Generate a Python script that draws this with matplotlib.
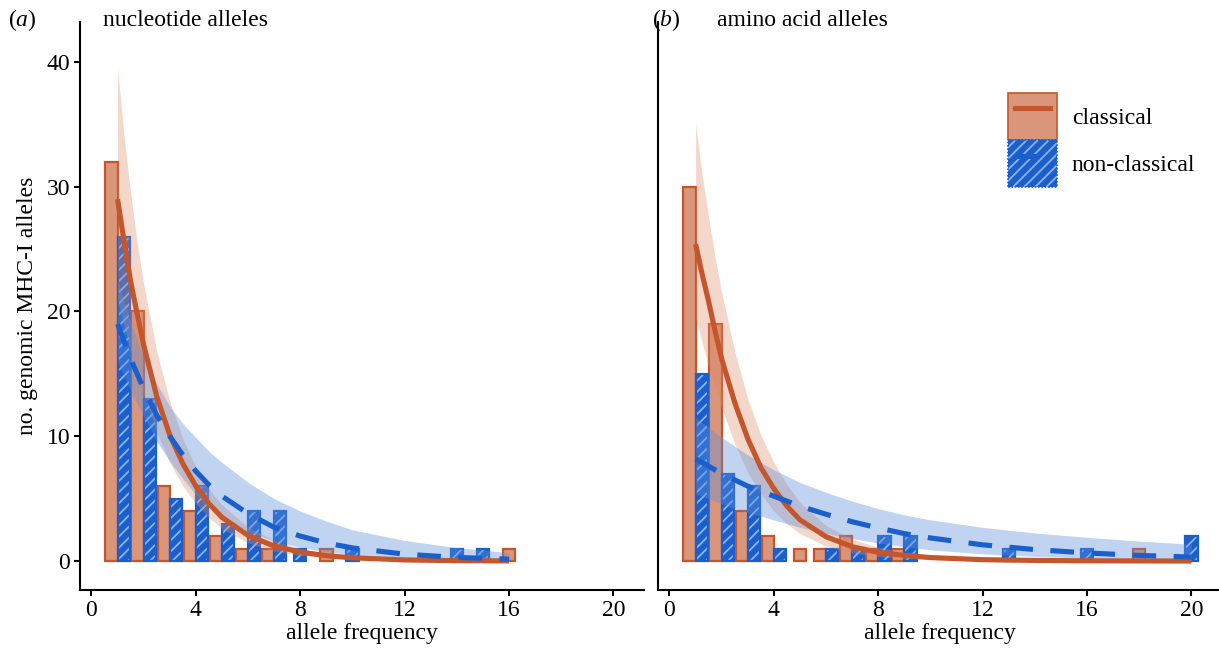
import matplotlib
matplotlib.use("Agg")
import matplotlib.pyplot as plt
from matplotlib.patches import Patch
from matplotlib.lines import Line2D

plt.rcParams['font.family'] = ['Liberation Serif', 'DejaVu Serif']
plt.rcParams['mathtext.fontset'] = 'custom'
plt.rcParams['mathtext.rm'] = 'Liberation Serif'
plt.rcParams['mathtext.it'] = 'Liberation Serif:italic'
plt.rcParams['hatch.linewidth'] = 1.3

# bar data, panel (a) nucleotide alleles
freq_a_cl = [1, 2, 3, 4, 5, 6, 7, 9, 16]
cnt_a_cl = [32, 20, 6, 4, 2, 1, 1, 1, 1]
freq_a_nc = [1, 2, 3, 4, 5, 6, 7, 8, 10, 14, 15]
cnt_a_nc = [26, 13, 5, 6, 3, 4, 4, 1, 1, 1, 1]

# bar data, panel (b) amino acid alleles
freq_b_cl = [1, 2, 3, 4, 5, 6, 7, 8, 9, 18]
cnt_b_cl = [30, 19, 4, 2, 1, 1, 2, 1, 1, 1]
freq_b_nc = [1, 2, 3, 4, 6, 7, 8, 9, 13, 16, 20]
cnt_b_nc = [15, 7, 6, 1, 1, 1, 2, 2, 1, 1, 2]

# fitted curves + confidence bands
fit_x_a = [1, 1.25, 1.5, 1.75, 2, 2.5, 3, 3.5, 4, 4.5, 5, 6, 7, 8, 9, 10, 12, 14, 16]
fit_a_cl = [29.0, 25.6, 22.4, 19.8, 17.3, 13.2, 10.1, 7.8, 6.0, 4.6, 3.5, 2.05, 1.2, 0.72, 0.43, 0.26, 0.09, 0.03, 0.01]
hi_a_cl = [39.5, 34.0, 29.5, 25.5, 22.2, 16.8, 12.8, 9.8, 7.5, 5.8, 4.5, 2.7, 1.65, 1.0, 0.63, 0.4, 0.16, 0.07, 0.03]
lo_a_cl = [21.0, 18.8, 16.8, 15.0, 13.4, 10.3, 7.9, 6.0, 4.6, 3.5, 2.6, 1.45, 0.8, 0.45, 0.25, 0.14, 0.04, 0.01, 0.0]
fit_a_nc = [19.0, 17.6, 16.2, 15.0, 13.8, 11.7, 10.0, 8.5, 7.2, 6.1, 5.2, 3.8, 2.7, 2.0, 1.45, 1.05, 0.55, 0.29, 0.15]
hi_a_nc = [22.5, 20.8, 19.2, 17.7, 16.4, 14.2, 12.4, 11.0, 9.9, 8.8, 7.9, 6.3, 5.0, 4.0, 3.2, 2.5, 1.65, 1.07, 0.68]
lo_a_nc = [16.0, 14.8, 13.7, 12.6, 11.6, 9.6, 8.0, 6.6, 5.3, 4.3, 3.5, 2.35, 1.6, 1.1, 0.75, 0.5, 0.22, 0.1, 0.04]

fit_x_b = [1, 1.25, 1.5, 1.75, 2, 2.5, 3, 3.5, 4, 4.5, 5, 6, 7, 8, 9, 10, 12, 14, 16, 18, 20]
fit_b_cl = [25.4, 23.0, 20.8, 18.4, 16.2, 12.7, 9.8, 7.5, 5.8, 4.4, 3.3, 1.95, 1.15, 0.7, 0.45, 0.28, 0.11, 0.05, 0.02, 0.01, 0.0]
hi_b_cl = [35.0, 31.0, 27.5, 24.3, 21.5, 16.8, 13.0, 10.1, 7.9, 6.1, 4.7, 2.85, 1.75, 1.1, 0.7, 0.45, 0.2, 0.09, 0.04, 0.02, 0.01]
lo_b_cl = [19.5, 17.5, 15.6, 13.9, 12.3, 9.4, 7.1, 5.4, 4.0, 3.0, 2.2, 1.2, 0.65, 0.36, 0.2, 0.11, 0.03, 0.01, 0.0, 0.0, 0.0]
fit_b_nc = [8.2, 7.9, 7.6, 7.3, 7.0, 6.5, 6.0, 5.6, 5.2, 4.8, 4.4, 3.75, 3.15, 2.65, 2.2, 1.85, 1.3, 0.92, 0.65, 0.45, 0.32]
hi_b_nc = [11.5, 11.1, 10.7, 10.3, 9.9, 9.2, 8.5, 7.9, 7.3, 6.8, 6.3, 5.5, 4.8, 4.2, 3.7, 3.3, 2.7, 2.25, 1.9, 1.6, 1.35]
lo_b_nc = [5.4, 5.2, 5.0, 4.8, 4.6, 4.2, 3.9, 3.6, 3.3, 3.0, 2.7, 2.2, 1.8, 1.45, 1.15, 0.9, 0.58, 0.37, 0.23, 0.15, 0.09]

ORANGE = '#c5562b'
ORANGE_FILL = '#d9967a'
BLUE = '#1a5fcb'
BLUE_HATCH = '#8fb3ea'
FS = 17

W = 0.47


def dodge(freqs, other, side):
    # shift bar half a slot when the other group has a bar at the same frequency
    out = []
    for f in freqs:
        if f in other:
            out.append(f + side * W / 2)
        else:
            out.append(f)
    return out


def panel(ax, f_cl, c_cl, f_nc, c_nc, fx, fcl, hcl, lcl, fnc, hnc, lnc):
    x_cl = dodge(f_cl, f_nc, -1)
    x_nc = dodge(f_nc, f_cl, +1)
    ax.bar(x_cl, c_cl, width=W, color=ORANGE_FILL, edgecolor=ORANGE, linewidth=1.6, zorder=2)
    ax.bar(x_nc, c_nc, width=W, color=BLUE, edgecolor=BLUE_HATCH, hatch='///', linewidth=0, zorder=2)
    ax.bar(x_nc, c_nc, width=W, color='none', edgecolor=BLUE, linewidth=1.6, zorder=2)

    ax.fill_between(fx, lcl, hcl, color='#dc8a68', alpha=0.34, linewidth=0, zorder=3)
    ax.fill_between(fx, lnc, hnc, color='#5b8fdc', alpha=0.38, linewidth=0, zorder=3)
    ax.plot(fx, fcl, color=ORANGE, lw=3.7, zorder=4, solid_capstyle='butt')
    ax.plot(fx, fnc, color=BLUE, lw=3.7, zorder=4, dashes=(4.6, 3.4), dash_capstyle='butt')

    ax.set_xlim(-0.44, 21.17)
    ax.set_ylim(-2.32, 43.2)
    ax.set_xticks([0, 4, 8, 12, 16, 20])
    ax.set_yticks([0, 10, 20, 30, 40])
    for s in ['top', 'right']:
        ax.spines[s].set_visible(False)
    for s in ['left', 'bottom']:
        ax.spines[s].set_linewidth(1.5)
    ax.tick_params(length=4, width=1.5, labelsize=FS, pad=3)
    ax.set_xlabel('allele frequency', fontsize=FS, labelpad=2)


fig = plt.figure(figsize=(12.19, 6.55), dpi=100)
ax1 = fig.add_axes([80 / 1219, 65 / 655, 564 / 1219, 568 / 655])
ax2 = fig.add_axes([658 / 1219, 65 / 655, 564 / 1219, 568 / 655])

panel(ax1, freq_a_cl, cnt_a_cl, freq_a_nc, cnt_a_nc,
      fit_x_a, fit_a_cl, hi_a_cl, lo_a_cl, fit_a_nc, hi_a_nc, lo_a_nc)
panel(ax2, freq_b_cl, cnt_b_cl, freq_b_nc, cnt_b_nc,
      fit_x_b, fit_b_cl, hi_b_cl, lo_b_cl, fit_b_nc, hi_b_nc, lo_b_nc)

ax1.set_ylabel('no. genomic MHC-I alleles', fontsize=FS, labelpad=6)
ax2.tick_params(axis='y', left=False, labelleft=False)

fig.text(8 / 1219, 0.969, r'($\mathit{a}$)', fontsize=FS, va='center', ha='left')
fig.text(103 / 1219, 0.969, 'nucleotide alleles', fontsize=FS, va='center', ha='left')
fig.text(652 / 1219, 0.969, r'($\mathit{b}$)', fontsize=FS, va='center', ha='left')
fig.text(717 / 1219, 0.969, 'amino acid alleles', fontsize=FS, va='center', ha='left')

# legend
h_cl = (Patch(facecolor=ORANGE_FILL, edgecolor=ORANGE, linewidth=1.2),
        Line2D([], [], color=ORANGE, lw=3.7))
h_nc = (Patch(facecolor=BLUE, edgecolor=BLUE_HATCH, hatch='///', linewidth=0),
        Patch(facecolor='none', edgecolor=BLUE, linewidth=1.2, linestyle=(0, (1, 1))),
        Line2D([], [], color=BLUE, lw=3.7, dashes=(4.6, 3.4)))
fig.legend([h_cl, h_nc], ['classical', 'non-classical'], loc='upper left',
           bbox_to_anchor=(1008 / 1219, 1 - 93 / 655), frameon=False, fontsize=FS,
           borderpad=0, borderaxespad=0, labelspacing=0, handlelength=2.08,
           handleheight=2.7, handletextpad=0.62, numpoints=2)

fig.savefig('out.png', dpi=100)
